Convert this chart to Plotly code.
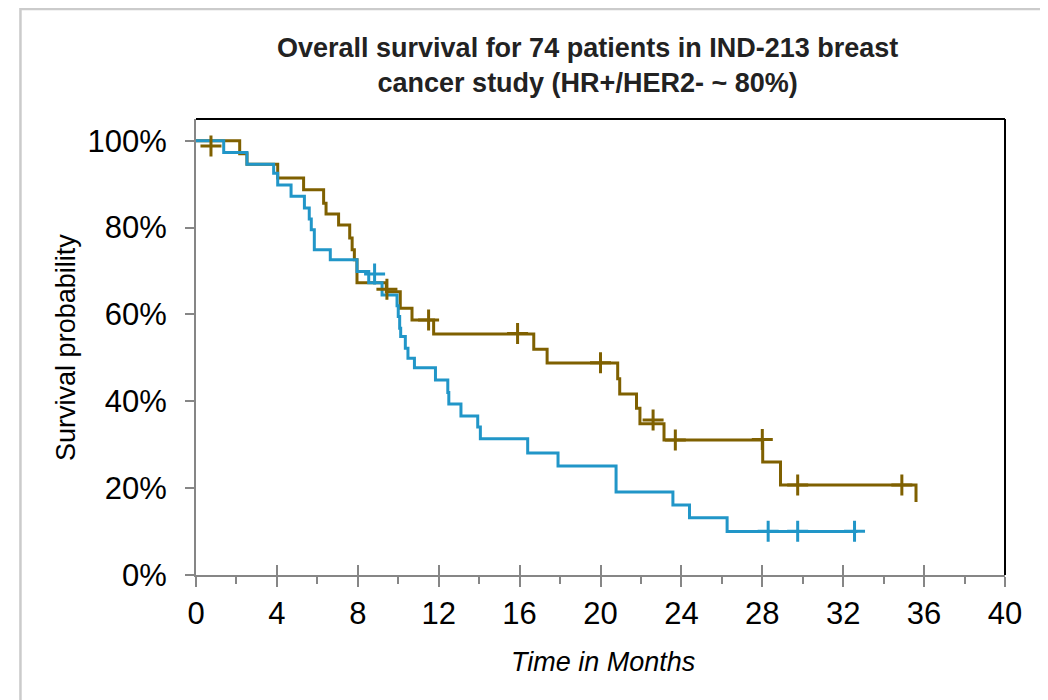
import plotly.graph_objects as go

# ---- data (months, survival probability) ----
brown_t = [0, 2.16, 2.52, 4.04, 5.32, 6.31, 6.43, 7.05, 7.60, 7.72, 7.83, 7.96, 9.41, 10.10, 10.68,
           11.75, 16.70, 17.36, 20.85, 20.95, 21.78, 21.95, 23.14, 28.02, 28.90, 35.60]
brown_s = [1.0, 0.970, 0.946, 0.914, 0.887, 0.856, 0.831, 0.806, 0.776, 0.749, 0.726, 0.673, 0.652, 0.614, 0.587,
           0.555, 0.520, 0.488, 0.452, 0.417, 0.384, 0.348, 0.311, 0.260, 0.207, 0.168]
brown_cens_t = [0.74, 9.44, 11.5, 15.9, 20.0, 22.6, 23.7, 28.0, 29.75, 34.9]
brown_cens_s = [0.988, 0.658, 0.587, 0.556, 0.489, 0.357, 0.311, 0.312, 0.207, 0.207]

blue_t = [0, 1.37, 2.52, 3.84, 4.04, 4.70, 5.36, 5.60, 5.70, 5.85, 6.64, 7.96, 8.54, 9.20, 9.94, 10.00,
          10.07, 10.12, 10.35, 10.48, 10.80, 11.84, 12.45, 12.50, 13.10, 13.93, 14.06, 16.40, 17.90,
          20.77, 23.58, 24.40, 26.26, 32.70]
blue_s = [1.0, 0.973, 0.946, 0.925, 0.898, 0.872, 0.845, 0.820, 0.795, 0.749, 0.726, 0.699, 0.673, 0.645, 0.620, 0.595,
          0.568, 0.549, 0.522, 0.499, 0.477, 0.449, 0.420, 0.394, 0.366, 0.341, 0.314, 0.281, 0.251,
          0.191, 0.161, 0.132, 0.100, 0.100]
blue_cens_t = [8.83, 28.29, 29.75, 32.56]
blue_cens_s = [0.693, 0.101, 0.101, 0.101]

x_ticks = [0, 4, 8, 12, 16, 20, 24, 28, 32, 36, 40]
y_ticks = [0, 0.2, 0.4, 0.6, 0.8, 1.0]

BROWN = "#7F6000"
BLUE = "#2196C8"
AXIS_GRAY = "#868686"
FONT = "Liberation Sans, Arial, sans-serif"

fig = go.Figure()
fig.add_trace(go.Scatter(x=brown_t, y=brown_s, mode="lines", line=dict(color=BROWN, width=3, shape="hv"),
                         showlegend=False, hoverinfo="skip"))
fig.add_trace(go.Scatter(x=blue_t, y=blue_s, mode="lines", line=dict(color=BLUE, width=3, shape="hv"),
                         showlegend=False, hoverinfo="skip"))
fig.add_trace(go.Scatter(x=brown_cens_t, y=brown_cens_s, mode="markers",
                         marker=dict(symbol="cross-thin", size=15, line=dict(color=BROWN, width=3)),
                         showlegend=False, hoverinfo="skip"))
fig.add_trace(go.Scatter(x=blue_cens_t, y=blue_cens_s, mode="markers",
                         marker=dict(symbol="cross-thin", size=15, line=dict(color=BLUE, width=3)),
                         showlegend=False, hoverinfo="skip"))
# invisible trace to activate the overlay axis (inside ticks)
fig.add_trace(go.Scatter(x=[0], y=[0], xaxis="x2", mode="markers", marker=dict(opacity=0),
                         showlegend=False, hoverinfo="skip"))

fig.update_layout(
    width=1040, height=692,
    margin=dict(l=188, r=43, t=111, b=125),
    paper_bgcolor="white", plot_bgcolor="white",
    font=dict(family=FONT, color="black"),
    xaxis=dict(range=[0, 40], tickvals=x_ticks, ticks="outside", ticklen=10, tickwidth=1.5,
               tickcolor=AXIS_GRAY, showline=True, linecolor=AXIS_GRAY, linewidth=2,
               showgrid=False, zeroline=False, tickfont=dict(size=31, color="black"),
               ticklabelstandoff=0,
               minor=dict(dtick=2, ticks="outside", ticklen=7, tickwidth=1.5, tickcolor=AXIS_GRAY)),
    xaxis2=dict(range=[0, 40], overlaying="x", anchor="y", side="bottom", tickvals=x_ticks,
                ticks="inside", ticklen=10, tickwidth=1.5, tickcolor=AXIS_GRAY,
                showticklabels=False, showline=False, showgrid=False, zeroline=False),
    yaxis=dict(range=[0, 1.05], tickvals=y_ticks, tickformat=".0%", ticks="outside", ticklen=9,
               tickwidth=1.5, tickcolor=AXIS_GRAY, showline=True, linecolor=AXIS_GRAY, linewidth=2,
               showgrid=False, zeroline=False, tickfont=dict(size=31, color="black"),
               ticklabelstandoff=12),
    shapes=[
        dict(type="line", xref="paper", yref="paper", x0=0, x1=1, y0=1, y1=1,
             line=dict(color="black", width=2)),
        dict(type="line", xref="paper", yref="paper", x0=1, x1=1, y0=0, y1=1,
             line=dict(color="black", width=2)),
        dict(type="rect", xref="paper", yref="paper", x0=-0.217, x1=1.0495, y0=-0.35, y1=1.2415,
             line=dict(color="#CBCBCB", width=2.5), layer="below"),
    ],
    annotations=[
        dict(text="<b>Overall survival for 74 patients in IND-213 breast<br>cancer study (HR+/HER2- ~ 80%)</b>",
             xref="paper", yref="paper", x=0.4835, y=1.118, xanchor="center", yanchor="middle",
             showarrow=False, font=dict(size=27, color="#222222", family=FONT)),
        dict(text="Survival probability", xref="paper", yref="paper", x=-0.1608, y=0.5,
             xanchor="center", yanchor="middle", textangle=-90, showarrow=False,
             font=dict(size=27, color="black", family=FONT)),
        dict(text="<i>Time in Months</i>", xref="paper", yref="paper", x=0.503, y=-0.1917,
             xanchor="center", yanchor="middle", showarrow=False,
             font=dict(size=27, color="black", family=FONT)),
    ],
)

fig.write_html("out.html")
